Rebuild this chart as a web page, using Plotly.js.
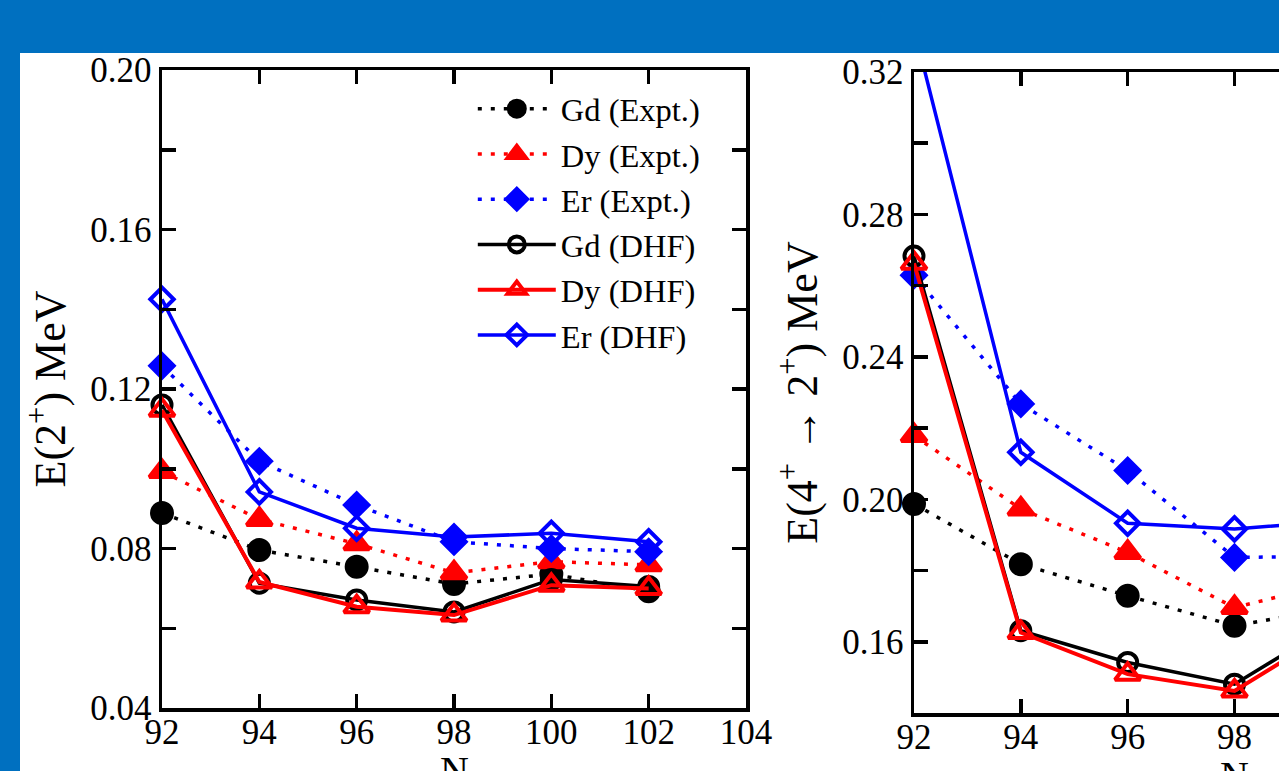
<!DOCTYPE html>
<html>
<head>
<meta charset="utf-8">
<script src="https://cdn.plot.ly/plotly-3.0.1.min.js"></script>
<style>
  html, body { margin: 0; padding: 0; width: 1279px; height: 771px; overflow: hidden; background: #0070C0; }
  #sheet { position: absolute; left: 20px; top: 53px; width: 1600px; height: 800px; background: #ffffff; }
  #chart { width: 1600px; height: 800px; }
</style>
</head>
<body>
<div id="sheet"><div id="chart"></div></div>
<script>
// Neutron number of each isotope
const neutronN = [92, 94, 96, 98, 100, 102];

// E(2+) energies, MeV
const e2GdExpt = [0.0889, 0.0796, 0.0754, 0.0711, 0.0736, 0.0693];
const e2DyExpt = [0.0993, 0.0873, 0.0812, 0.0739, 0.0767, 0.0759];
const e2ErExpt = [0.1258, 0.1019, 0.0909, 0.0817, 0.0800, 0.0792];
const e2GdDHF  = [0.1160, 0.0713, 0.0671, 0.0641, 0.0722, 0.0705];
const e2DyDHF  = [0.1147, 0.0716, 0.0654, 0.0633, 0.0708, 0.0700];
const e2ErDHF  = [0.1425, 0.0942, 0.0851, 0.0829, 0.0838, 0.0817];

// E(4+ -> 2+) energies, MeV
const e42GdExpt = [0.1987, 0.1818, 0.1729, 0.1645, 0.1698, 0.1590];
const e42DyExpt = [0.2179, 0.1973, 0.1851, 0.1696, 0.1770, 0.1730];
const e42ErExpt = [0.2629, 0.2268, 0.2081, 0.1837, 0.1840, 0.1820];
const e42GdDHF  = [0.2683, 0.1631, 0.1542, 0.1481, 0.1663, 0.1630];
const e42DyDHF  = [0.2663, 0.1626, 0.1509, 0.1462, 0.1647, 0.1630];
const e42ErDHF  = [0.3322, 0.2132, 0.1933, 0.1917, 0.1940, 0.1900];

const seriesNames = ['Gd (Expt.)', 'Dy (Expt.)', 'Er (Expt.)', 'Gd (DHF)', 'Dy (DHF)', 'Er (DHF)'];

// axis tick values and labels
const nTicks = [92, 94, 96, 98, 100, 102, 104];
const e2Ticks = [0.04, 0.08, 0.12, 0.16, 0.20];
const e2Labels = ['0.04', '0.08', '0.12', '0.16', '0.20'];
const e42Ticks = [0.16, 0.20, 0.24, 0.28, 0.32];
const e42Labels = ['0.16', '0.20', '0.24', '0.28', '0.32'];

const FONT = '"Liberation Serif", "Times New Roman", serif';
const styles = [
  { color: '#000000', symbol: 'circle',           size: 20, dash: '4px,9px', width: 3.5 },
  { color: '#ff0000', symbol: 'triangle-up',      size: 22, dash: '4px,9px', width: 3.5 },
  { color: '#0000ff', symbol: 'diamond',          size: 18, dash: '4px,9px', width: 3.5 },
  { color: '#000000', symbol: 'circle-open',      size: 19, dash: 'solid',   width: 3.5 },
  { color: '#ff0000', symbol: 'triangle-up-open', size: 22, dash: 'solid',   width: 4 },
  { color: '#0000ff', symbol: 'diamond-open',     size: 18, dash: 'solid',   width: 3.5 }
];

function makeTrace(values, i, xa, ya, showLegend, clip) {
  const s = styles[i];
  return {
    x: neutronN, y: values, xaxis: xa, yaxis: ya,
    type: 'scatter', mode: 'lines+markers',
    name: seriesNames[i], showlegend: showLegend, cliponaxis: clip,
    line: { color: s.color, width: s.width, dash: s.dash },
    marker: { symbol: s.symbol, size: s.size, color: s.color,
              line: { color: s.color, width: 4 } }
  };
}

const leftSets  = [e2GdExpt, e2DyExpt, e2ErExpt, e2GdDHF, e2DyDHF, e2ErDHF];
const rightSets = [e42GdExpt, e42DyExpt, e42ErExpt, e42GdDHF, e42DyDHF, e42ErDHF];

const traces = [];
leftSets.forEach((v, i) => traces.push(makeTrace(v, i, 'x', 'y', true, false)));
rightSets.forEach((v, i) => traces.push(makeTrace(v, i, 'x2', 'y2', false, i === 5)));

const tickFont = { family: FONT, size: 35, color: '#000' };
const common = {
  showline: true, linecolor: '#000', linewidth: 3.5, mirror: 'ticks',
  ticks: 'inside', ticklen: 14, tickwidth: 3.5, tickcolor: '#000',
  showgrid: false, zeroline: false, tickfont: tickFont, automargin: false,
  ticklabeloverflow: 'allow', fixedrange: true
};

function xAxis(domain, anchor) {
  return Object.assign({}, common, {
    domain: domain, anchor: anchor, range: [92, 104],
    tickmode: 'array', tickvals: nTicks, ticktext: nTicks.map(String),
    ticklabelstandoff: -10
  });
}
function yAxis(domain, anchor, range, vals, labels, title) {
  return Object.assign({}, common, {
    domain: domain, anchor: anchor, range: range,
    tickmode: 'array', tickvals: vals, ticktext: labels,
    minor: { dtick: 0.02, tick0: vals[0], ticks: 'inside', ticklen: 14, tickwidth: 3.5, tickcolor: '#000' },
    title: { text: title, font: { family: FONT, size: 44, color: '#000' }, standoff: 12 }
  });
}

// "N" label under each panel
function nTitle(xref, yref) {
  return {
    text: 'N', xref: xref + ' domain', yref: yref + ' domain', x: 0.5, y: 0,
    xanchor: 'center', yanchor: 'top', yshift: -38, showarrow: false,
    font: { family: FONT, size: 40, color: '#000' }
  };
}

const layout = {
  width: 1600, height: 800,
  margin: { l: 0, r: 0, t: 0, b: 0 },
  paper_bgcolor: '#ffffff', plot_bgcolor: '#ffffff',
  font: { family: FONT, color: '#000' },
  showlegend: true,
  xaxis:  xAxis([0.08875, 0.45375], 'y'),
  yaxis:  yAxis([0.18125, 0.97875], 'x', [0.04, 0.20], e2Ticks, e2Labels, 'E(2<sup>+</sup>) MeV'),
  xaxis2: xAxis([0.55875, 0.959375], 'y2'),
  yaxis2: yAxis([0.175, 0.97625], 'x2', [0.14, 0.32], e42Ticks, e42Labels, 'E(4<sup>+</sup> → 2<sup>+</sup>) MeV'),
  annotations: [nTitle('x', 'y'), nTitle('x2', 'y2')],
  legend: {
    x: 0.283, y: 0.965, xanchor: 'left', yanchor: 'top', xref: 'paper', yref: 'paper',
    bgcolor: 'rgba(0,0,0,0)', borderwidth: 0, itemwidth: 78, itemsizing: 'trace',
    font: { family: FONT, size: 32.5, color: '#000' }
  }
};

Plotly.newPlot('chart', traces, layout, { displayModeBar: false, staticPlot: true });
</script>
</body>
</html>
